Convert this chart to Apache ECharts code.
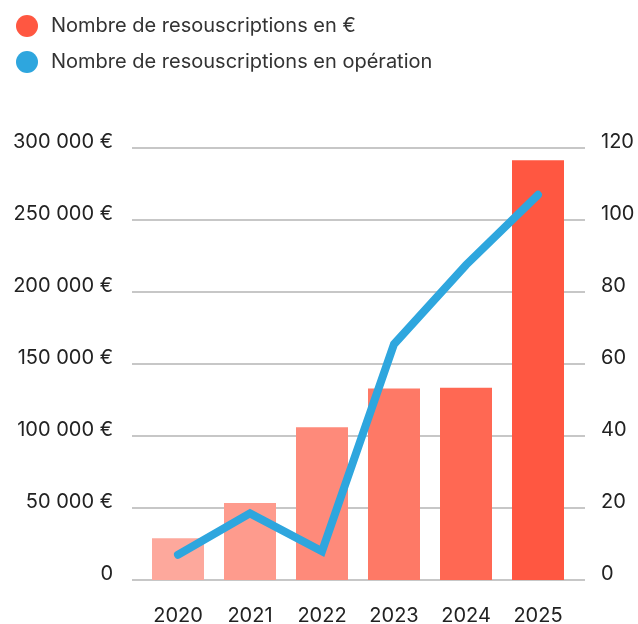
<!DOCTYPE html>
<html>
<head>
<meta charset="utf-8">
<script src="https://cdn.jsdelivr.net/npm/echarts@6/dist/echarts.min.js"></script>
<style>
  html, body { margin: 0; padding: 0; background: #fff; }
  #chart { width: 638px; height: 624px; }
</style>
</head>
<body>
<div id="chart"></div>
<script>
const years = ['2020', '2021', '2022', '2023', '2024', '2025']
const montants = [29000, 53500, 106000, 133000, 133500, 291500]
const operations = [7, 18.5, 8, 65.5, 87.5, 107]
const barColors = ['#fda89c', '#fe9b8d', '#fe8a7a', '#fe7966', '#ff6853', '#ff5741']
const euroTicks = [0, 50000, 100000, 150000, 200000, 250000, 300000]
const countTicks = [0, 20, 40, 60, 80, 100, 120]

const chart = echarts.init(document.getElementById('chart'))

const textFont = 'Inter, "Noto Sans", sans-serif'
const gridColor = '#b5b5b5'

const fmtEuro = v => v === 0 ? '0' : (v / 1000) + ' 000 €'

const option = {
  animation: false,
  legend: {
    orient: 'vertical',
    left: 11,
    top: 10,
    itemWidth: 22,
    itemHeight: 22,
    itemGap: 14,
    icon: 'circle',
    textStyle: { color: '#333', fontSize: 20, fontFamily: textFont, padding: [0, 0, 0, 8] },
    data: ['Nombre de resouscriptions en €', 'Nombre de resouscriptions en opération']
  },
  grid: [
    // grille de fond (plus large, porte les libellés + lignes)
    { left: 132, right: 53, top: 148, height: 432, outerBoundsMode: 'none', containLabel: false },
    // grille des données
    { left: 142, right: 64, top: 148, height: 432, outerBoundsMode: 'none', containLabel: false }
  ],
  xAxis: [
    { type: 'category', gridIndex: 0, data: years, show: false },
    {
      type: 'category', gridIndex: 1, data: years,
      axisLine: { show: false },
      axisTick: { show: false },
      axisLabel: { color: '#222', fontSize: 20, fontFamily: textFont, margin: 26 }
    }
  ],
  yAxis: [
    {
      type: 'value', gridIndex: 0, min: 0, max: euroTicks[euroTicks.length - 1], interval: 50000,
      axisLine: { show: false }, axisTick: { show: false },
      axisLabel: { color: '#222', fontSize: 20, fontFamily: textFont, margin: 19, verticalAlign: 'bottom', lineHeight: 12, formatter: fmtEuro },
      splitLine: { lineStyle: { color: gridColor, width: 1.5 } }
    },
    {
      type: 'value', gridIndex: 0, min: 0, max: countTicks[countTicks.length - 1], interval: 20,
      axisLine: { show: false }, axisTick: { show: false },
      axisLabel: { color: '#222', fontSize: 20, fontFamily: textFont, margin: 16, verticalAlign: 'bottom', lineHeight: 12 },
      splitLine: { show: false }
    },
    { type: 'value', gridIndex: 1, min: 0, max: 300000, show: false },
    { type: 'value', gridIndex: 1, min: 0, max: 120, show: false }
  ],
  series: [
    {
      name: 'Nombre de resouscriptions en €',
      type: 'bar',
      xAxisIndex: 1,
      yAxisIndex: 2,
      barWidth: 52,
      itemStyle: { color: '#ff5741' },
      data: montants.map((v, i) => ({ value: v, itemStyle: { color: barColors[i] } }))
    },
    {
      name: 'Nombre de resouscriptions en opération',
      type: 'line',
      xAxisIndex: 1,
      yAxisIndex: 3,
      symbol: 'none',
      itemStyle: { color: '#2ea6de' },
      lineStyle: { color: '#2ea6de', width: 8, cap: 'round', join: 'miter' },
      data: operations
    }
  ]
}

chart.setOption(option)
</script>
</body>
</html>
